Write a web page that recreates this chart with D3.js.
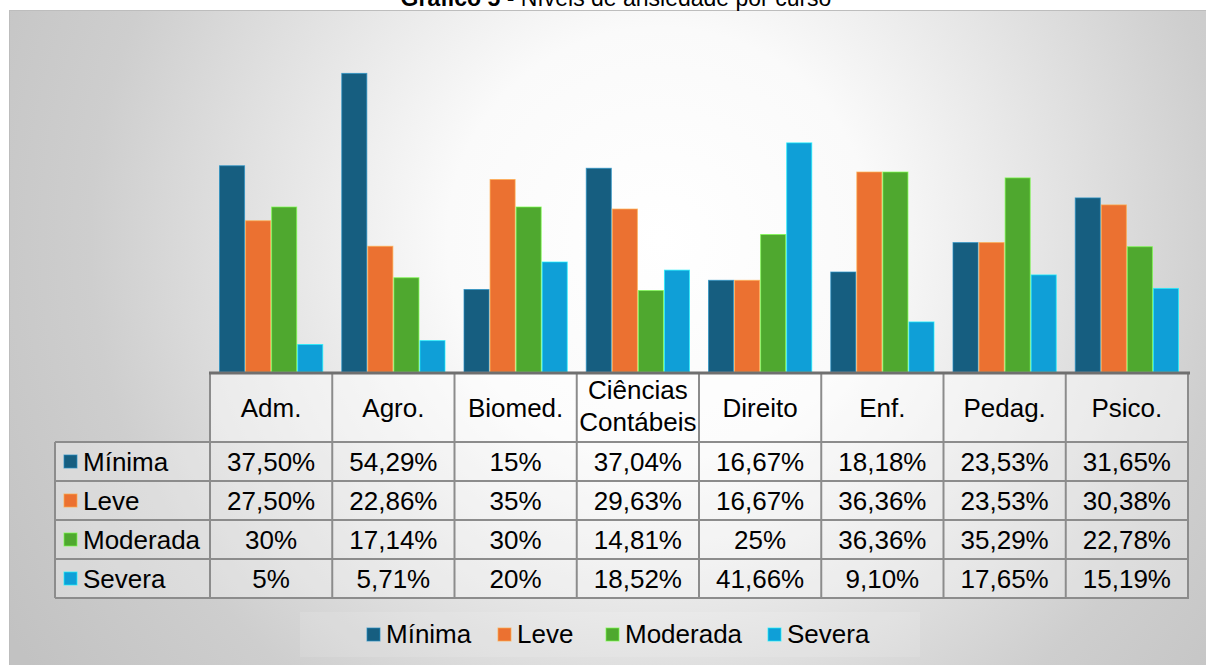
<!DOCTYPE html>
<html><head><meta charset="utf-8">
<script src="https://cdn.jsdelivr.net/npm/d3@7"></script>
<style>html,body{margin:0;padding:0;background:#fff;overflow:hidden}</style>
</head><body>
<svg id="c" width="1206" height="665"></svg>
<script>
const categories = ["Adm.", "Agro.", "Biomed.", "Ciências Contábeis", "Direito", "Enf.", "Pedag.", "Psico."];
const series = ["Mínima", "Leve", "Moderada", "Severa"];
const minima   = [37.50, 54.29, 15, 37.04, 16.67, 18.18, 23.53, 31.65];
const leve     = [27.50, 22.86, 35, 29.63, 16.67, 36.36, 23.53, 30.38];
const moderada = [30, 17.14, 30, 14.81, 25, 36.36, 35.29, 22.78];
const severa   = [5, 5.71, 20, 18.52, 41.66, 9.10, 17.65, 15.19];
const colors = ["#165e80", "#eb7131", "#4fa82f", "#0f9fd7"];
const title = ["Gráfico 5", " - Níveis de ansiedade por curso"];

const values = [minima, leve, moderada, severa];
const svg = d3.select("#c");
const font = "'Liberation Sans', Arial, sans-serif";

const defs = svg.append("defs");
const rg = defs.append("radialGradient").attr("id","bg").attr("gradientUnits","userSpaceOnUse")
  .attr("cx",660).attr("cy",240).attr("r",760);
rg.append("stop").attr("offset",0).attr("stop-color","#ffffff");
rg.append("stop").attr("offset",0.28).attr("stop-color","#fafafa");
rg.append("stop").attr("offset",0.75).attr("stop-color","#cecece");
rg.append("stop").attr("offset",1).attr("stop-color","#c2c2c2");

// frame
svg.append("rect").attr("x",9.5).attr("y",10.5).attr("width",1206).attr("height",660)
  .attr("fill","url(#bg)").attr("stroke","#bdbdbd").attr("stroke-width",1);

// title
const t = svg.append("text").attr("x",616).attr("y",6).attr("text-anchor","middle")
  .attr("font-family",font).attr("font-size",23).attr("fill","#000");
t.append("tspan").attr("font-weight","bold").text(title[0]);
t.append("tspan").text(title[1]);

const baseY = 372;
const x = d3.scaleBand().domain(categories).range([210, 1188]).padding(0);
const bw = x.bandwidth();
const xs = d3.scaleBand().domain(series).range([9, bw - 9]).padding(0);
const y = d3.scaleLinear().domain([0, 60]).range([baseY, 42]);

// bars
const g = svg.append("g");
series.forEach((s, si) => {
  g.selectAll(null).data(values[si]).enter().append("rect")
    .attr("x", (d, i) => x(categories[i]) + xs(s) + 0.5)
    .attr("y", d => y(d))
    .attr("width", xs.bandwidth() - 1)
    .attr("height", d => baseY - y(d))
    .attr("fill", colors[si])
    .attr("stroke", d3.color(colors[si]).brighter(1.2))
    .attr("stroke-opacity", 0.7)
    .attr("stroke-width", 1);
});

// table
const headTop = baseY, rowTop = 442, rowH = 39, tableLeft = 55, right = 1188;
const fmt = v => Number.isInteger(v) ? v + "%" : v.toFixed(2).replace(".", ",") + "%";
const tg = svg.append("g");
tg.append("rect").attr("x",210).attr("y",headTop).attr("width",right-210).attr("height",rowTop-headTop)
  .attr("fill","#fff").attr("fill-opacity",0.45);
tg.append("rect").attr("x",tableLeft).attr("y",rowTop).attr("width",right-tableLeft).attr("height",rowH*4)
  .attr("fill","#fff").attr("fill-opacity",0.3);

const lineC = "#8c8c8c";
for (let r = 0; r <= 4; r++) {
  tg.append("line").attr("x1",tableLeft).attr("x2",right+1).attr("y1",rowTop + r*rowH).attr("y2",rowTop + r*rowH)
    .attr("stroke",lineC).attr("stroke-width",2);
}
tg.append("line").attr("x1",tableLeft).attr("x2",tableLeft).attr("y1",rowTop).attr("y2",rowTop+4*rowH)
  .attr("stroke",lineC).attr("stroke-width",2);
categories.forEach(c => {
  tg.append("line").attr("x1",x(c)).attr("x2",x(c)).attr("y1",headTop).attr("y2",rowTop+4*rowH)
    .attr("stroke",lineC).attr("stroke-width",2);
});
tg.append("line").attr("x1",right).attr("x2",right).attr("y1",headTop).attr("y2",rowTop+4*rowH)
  .attr("stroke",lineC).attr("stroke-width",2);
tg.append("line").attr("x1",209).attr("x2",right+2).attr("y1",baseY+1).attr("y2",baseY+1)
  .attr("stroke","#6f6f6f").attr("stroke-width",3);

categories.forEach(c => {
  const cx = x(c) + bw/2;
  const words = c.split(" ");
  const txt = tg.append("text").attr("x",cx).attr("text-anchor","middle")
    .attr("font-family",font).attr("font-size",26).attr("fill","#000");
  if (words.length === 1) {
    txt.attr("y",416.5).text(c);
  } else {
    txt.append("tspan").attr("x",cx).attr("y",399).text(words[0]);
    txt.append("tspan").attr("x",cx).attr("y",431).text(words[1]);
  }
});

series.forEach((s, si) => {
  const ry = rowTop + si*rowH;
  tg.append("rect").attr("x",64).attr("y",ry + rowH/2 - 6.5).attr("width",13).attr("height",13)
    .attr("fill",colors[si]).attr("stroke",d3.color(colors[si]).brighter(1.2)).attr("stroke-opacity",0.7);
  tg.append("text").attr("x",83).attr("y",ry + rowH/2 + 9)
    .attr("font-family",font).attr("font-size",26).attr("fill","#000").text(s);
  values[si].forEach((v, i) => {
    tg.append("text").attr("x",x(categories[i]) + bw/2).attr("y",ry + rowH/2 + 9)
      .attr("text-anchor","middle").attr("font-family",font).attr("font-size",26).attr("fill","#000")
      .text(fmt(v));
  });
});

// bottom legend
const lg = svg.append("g");
lg.append("rect").attr("x",300).attr("y",612).attr("width",620).attr("height",45)
  .attr("fill","#fff").attr("fill-opacity",0.12);
const legX = [367, 498, 606, 768];
series.forEach((s, si) => {
  lg.append("rect").attr("x",legX[si]).attr("y",628).attr("width",13).attr("height",13)
    .attr("fill",colors[si]).attr("stroke",d3.color(colors[si]).brighter(1.2)).attr("stroke-opacity",0.7);
  lg.append("text").attr("x",legX[si]+19).attr("y",643)
    .attr("font-family",font).attr("font-size",26).attr("fill","#000").text(s);
});
</script>
</body></html>
